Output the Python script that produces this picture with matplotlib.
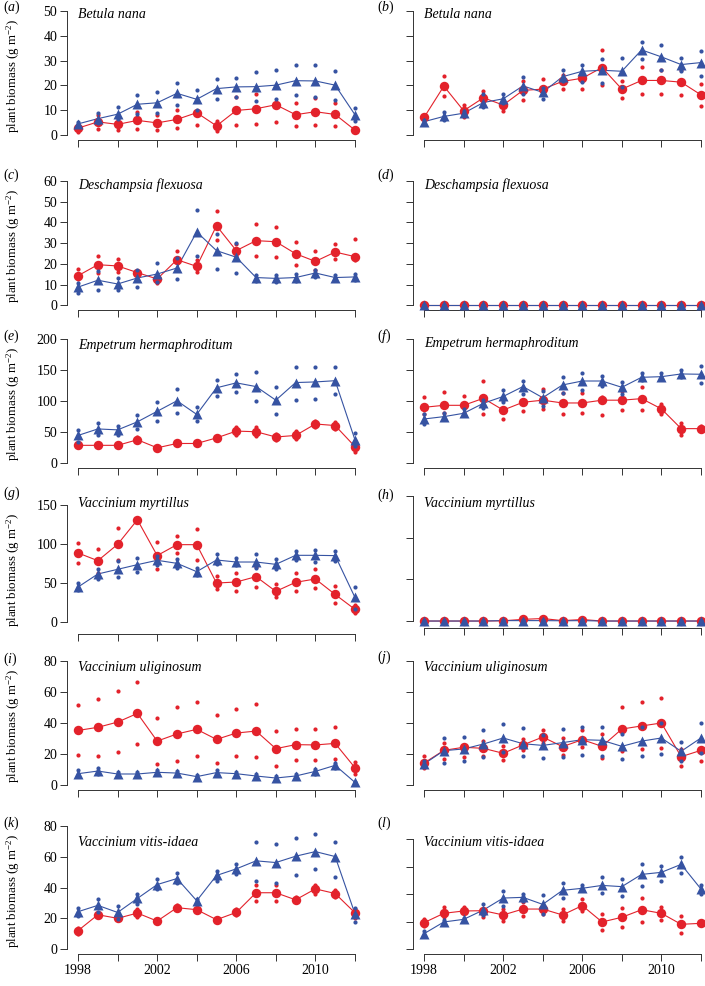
import numpy as np
import matplotlib
matplotlib.use('Agg')
import matplotlib.pyplot as plt

plt.rcParams['font.family'] = ['Liberation Serif', 'DejaVu Serif']
plt.rcParams['mathtext.fontset'] = 'custom'
plt.rcParams['mathtext.rm'] = 'Liberation Serif'
plt.rcParams['mathtext.it'] = 'Liberation Serif:italic'

years = list(range(1998, 2013))

# (a) Betula nana
a_red = [2.8, 5.3, 4.3, 5.9, 4.9, 6.3, 9.0, 3.7, 9.9, 10.6, 12.2, 8.2, 9.4, 8.3, 2.0]
a_red_dots = [[1.2, 3.9], [2.3, 8.0], [1.9, 6.8], [2.5, 9.4], [2.1, 8.0], [2.7, 10.0], [3.9, 14.0], [1.5, 5.5],
              [4.1, 15.5], [4.5, 16.6], [5.2, 19.8], [3.5, 13.0], [4.0, 15.0], [3.5, 13.0], [1.5, 2.5]]
a_blue = [4.5, 6.6, 8.4, 12.4, 13.0, 16.8, 14.4, 18.7, 19.4, 19.5, 20.1, 21.9, 21.8, 20.1, 8.2]
a_blue_dots = [[5.2, 3.8], [8.8, 4.8], [11.2, 6.4], [16.3, 8.4], [17.4, 9.0], [21.1, 12.3], [18.3, 10.2], [22.5, 14.7],
               [23.0, 15.5], [25.3, 13.9], [26.1, 14.4], [28.2, 16.0], [28.2, 15.2], [25.9, 14.3], [10.7, 5.7]]

# (b) Betula nana
b_red = [7.1, 19.7, 9.8, 15.0, 12.1, 18.0, 18.5, 21.6, 22.9, 27.2, 18.5, 22.0, 22.0, 21.3, 16.2]
b_red_dots = [[6.5, 7.5], [23.7, 15.7], [12.2, 7.2], [17.7, 13.5], [13.4, 9.7], [21.7, 14.1], [22.5, 18.0], [24.1, 18.5],
              [23.7, 18.5], [34.3, 20.1], [21.7, 15.1], [27.3, 16.6], [26.3, 16.6], [26.3, 16.2], [20.6, 11.7]]
b_blue = [5.4, 7.5, 8.8, 13.1, 14.6, 19.8, 17.2, 23.5, 25.7, 26.1, 25.7, 34.3, 31.5, 28.4, 29.2]
b_blue_dots = [[4.8, 6.0], [9.1, 6.0], [9.5, 8.0], [16.4, 11.5], [16.4, 12.9], [23.3, 16.5], [18.9, 14.7], [26.4, 21.6],
               [28.2, 21.2], [30.7, 20.9], [31.1, 19.3], [37.3, 30.8], [36.2, 26.3], [31.0, 25.7], [34.0, 23.7]]

# (c) Deschampsia flexuosa
c_red = [14.3, 19.6, 19.0, 15.8, 12.7, 22.0, 18.8, 38.4, 26.4, 31.2, 30.7, 24.9, 21.2, 25.7, 23.5]
c_red_dots = [[17.5, 12.5], [23.8, 15.4], [22.2, 16.1], [16.7, 14.5], [13.8, 10.9], [26.4, 21.9], [21.9, 16.1], [45.5, 31.6],
              [29.6, 24.0], [39.1, 23.8], [38.0, 23.5], [30.4, 19.5], [26.2, 17.0], [29.8, 22.2], [31.8, 22.0]]
c_blue = [8.8, 12.1, 10.3, 13.2, 15.1, 18.0, 35.4, 26.4, 23.2, 13.4, 13.0, 13.4, 15.6, 13.4, 13.7]
c_blue_dots = [[10.9, 6.1], [16.6, 7.2], [13.4, 7.4], [17.2, 8.8], [20.3, 11.3], [23.0, 12.9], [46.2, 24.0], [34.4, 17.7],
               [29.9, 15.8], [14.6, 11.6], [14.5, 11.3], [15.0, 11.6], [16.9, 13.7], [14.5, 12.5], [15.0, 12.2]]

# (d) Deschampsia flexuosa
d_red = [0, 0, 0, 0, 0, 0, 0, 0, 0, 0, 0, 0, 0, 0, 0]
d_red_dots = [[0, 0], [0, 0], [0, 0], [0, 0], [0, 0], [0, 0], [0, 0], [0, 0],
              [0, 0], [0, 0], [0, 0], [0, 0], [0, 0], [0, 0], [0, 0]]
d_blue = [0, 0, 0, 0, 0, 0, 0, 0, 0, 0, 0, 0, 0, 0, 0]
d_blue_dots = [[0, 0], [0, 0], [0, 0], [0, 0], [0, 0], [0, 0], [0, 0], [0, 0],
               [0, 0], [0, 0], [0, 0], [0, 0], [0, 0], [0, 0], [0, 0]]

# (e) Empetrum hermaphroditum
e_red = [28, 28, 28, 37, 24, 31, 31, 40, 51, 50, 41.5, 44, 62.5, 60, 26]
e_red_dots = [[25, 31], [26, 30], [26, 31], [33, 42], [22, 26], [29, 34], [28, 35], [38, 43],
              [45, 57], [43, 57], [36, 47], [38, 51], [57, 68], [54, 66], [17, 30]]
e_blue = [44, 54.5, 53, 66, 83, 100, 78, 121, 129, 123, 101, 129.5, 130.5, 132.5, 37]
e_blue_dots = [[52, 34], [63.6, 44.7], [60, 44], [77, 54.5], [98.7, 68], [119, 80], [89.5, 67], [133.7, 108],
               [143, 115], [146, 99.7], [123, 79], [155, 102], [155, 103], [155, 111.6], [48.5, 27]]

# (f) Empetrum hermaphroditum
f_red = [89.5, 92.7, 92.7, 104, 85, 97.6, 101, 96.5, 96.5, 101, 101, 103.5, 87, 55, 55]
f_red_dots = [[106, 79], [113.7, 80], [108, 81], [132, 78], [102, 70.6], [100, 84], [118.6, 86], [113, 78.7],
              [113, 79.8], [105.7, 77.6], [116, 85], [123, 85.7], [95.4, 78.7], [63.6, 44], [58.8, 51]]
f_blue = [70.6, 74.4, 79.8, 96, 107, 123, 105, 125.6, 132, 132, 121.8, 138, 139, 143.4, 142.9]
f_blue_dots = [[78, 63], [79.8, 70], [86, 77], [102, 88], [117, 97.6], [131.5, 111.6], [116, 91.6], [138, 112],
               [145.6, 117.5], [140, 124], [130, 111.6], [144.5, 133.7], [145.6, 134.8], [150, 139], [156, 129]]

# (g) Vaccinium myrtillus
g_red = [88.3, 78.4, 99.4, 131, 85, 99, 99, 49.7, 51, 57.9, 39, 50.6, 54.9, 35, 15.9]
g_red_dots = [[101.6, 75.4], [93.4, 63], [121, 78.9], [132, 129], [103, 67.3], [110, 87.9], [119.6, 79.3], [59, 41.6],
              [62.6, 39.4], [70, 45], [48.4, 31.3], [63, 39], [67.7, 42.9], [45.9, 24.4], [21, 11.6]]
g_blue = [44.6, 61.3, 67.3, 73.3, 78.9, 75, 64.3, 79.3, 76.7, 76.7, 73.7, 85.3, 85.3, 84.9, 31.3]
g_blue_dots = [[49.7, 40.3], [67.7, 55.3], [78, 57], [81.9, 64.3], [85, 72.9], [80.6, 69.4], [69, 60.4], [87, 73.7],
               [81.9, 72.4], [87, 68.6], [80, 68], [90.9, 79.3], [92, 76.7], [90.9, 78.4], [44, 16.7]]

# (h) Vaccinium myrtillus
h_red = [0, 0, 0, 0, 0.3, 2.0, 3.0, 0.5, 1.8, 0, 0, 0, 0, 0, 0]
h_red_dots = [[0, 0], [0, 0], [0, 0], [0, 0], [0, 0.8], [0.5, 3.5], [1.0, 5.0], [0, 1.2],
              [0.5, 3.0], [0, 0], [0, 0], [0, 0], [0, 0], [0, 0], [0, 0]]
h_blue = [0, 0, 0, 0, 0.5, 0.5, 0.5, 0.3, 0.5, 0, 0, 0, 0, 0, 0]
h_blue_dots = [[0, 0], [0, 0], [0, 0], [0, 0], [0, 1.0], [0, 1.0], [0, 1.0], [0, 0.6],
               [0, 1.0], [0, 0], [0, 0], [0, 0], [0, 0], [0, 0], [0, 0]]

# (i) Vaccinium uliginosum
i_red = [35.1, 37.1, 40.5, 46.1, 28.2, 32.8, 35.8, 29.3, 33.4, 34.7, 23.3, 25.9, 25.7, 26.7, 11.0]
i_red_dots = [[51.8, 19.0], [55.4, 18.5], [60.4, 21.1], [66.4, 26.1], [43.1, 13.6], [50.2, 15.5], [53.3, 18.5], [45.1, 14.2],
              [48.7, 18.5], [52.2, 17.7], [34.7, 12.1], [36.2, 16.0], [36.0, 15.7], [37.1, 16.4], [14.7, 7.1]]
i_blue = [7.1, 8.8, 6.9, 6.9, 8.0, 7.5, 5.2, 7.8, 7.1, 5.6, 4.3, 5.6, 8.6, 12.5, 1.5]
i_blue_dots = [[9.5, 6.0], [10.5, 7.0], [8.5, 6.0], [8.5, 6.0], [9.5, 7.0], [9.0, 6.0], [6.5, 4.5], [9.5, 6.5],
               [8.5, 6.0], [7.0, 4.5], [5.5, 3.5], [7.0, 4.5], [10.0, 7.0], [14.0, 11.0], [2.0, 1.0]]

# (j) Vaccinium uliginosum
j_red = [14.0, 22.2, 24.2, 23.5, 20.3, 25.7, 30.8, 24.6, 29.1, 24.8, 36.0, 38.0, 39.9, 18.1, 22.2]
j_red_dots = [[18.5, 10.8], [27.0, 16.8], [25.0, 18.1], [28.5, 18.5], [24.8, 16.0], [29.8, 22.4], [35.1, 26.7], [30.4, 19.4],
              [35.4, 24.2], [33.0, 17.0], [50.5, 21.8], [53.3, 22.9], [56.3, 23.5], [23.3, 12.1], [28.9, 15.5]]
j_blue = [13.4, 22.0, 23.1, 26.3, 30.2, 26.5, 25.4, 27.2, 29.1, 28.7, 24.8, 28.2, 30.2, 21.6, 30.2]
j_blue_dots = [[15.5, 12.1], [30.0, 13.8], [30.8, 15.3], [35.4, 17.7], [39.2, 21.0], [36.4, 18.5], [32.0, 17.5], [36.2, 17.7],
               [37.5, 19.0], [37.3, 18.5], [32.8, 16.8], [37.0, 18.5], [39.7, 19.6], [27.6, 15.5], [39.9, 20.7]]

# (k) Vaccinium vitis-idaea
k_red = [12.1, 22.4, 20.1, 23.5, 18.3, 27.0, 25.7, 19.2, 23.9, 36.7, 36.7, 32.1, 39.2, 36.2, 23.7]
k_red_dots = [[10.0, 14.0], [21.5, 23.5], [19.5, 20.5], [21.0, 26.0], [18.0, 19.0], [25.5, 28.5], [24.5, 26.5], [18.5, 20.0],
              [22.0, 26.0], [41.6, 31.5], [41.6, 31.5], [30.5, 34.0], [36.0, 42.0], [34.0, 38.5], [20.0, 26.0]]
k_blue = [24.4, 28.5, 23.9, 33.0, 42.0, 45.9, 31.5, 47.9, 52.2, 57.4, 56.3, 60.4, 63.4, 60.2, 23.1]
k_blue_dots = [[27.0, 21.3], [32.6, 24.0], [27.8, 19.4], [36.0, 29.5], [45.3, 39.2], [49.6, 43.1], [32.5, 30.5], [51.1, 44.4],
               [55.4, 48.9], [69.4, 44.6], [68.4, 42.9], [72.2, 48.3], [74.8, 51.8], [69.9, 47.0], [26.5, 17.7]]

# (l) Vaccinium vitis-idaea
l_red = [19.4, 26.2, 27.9, 28.1, 25.0, 29.3, 29.3, 25.0, 31.8, 19.9, 23.3, 28.8, 26.2, 18.2, 18.9]
l_red_dots = [[17.0, 22.0], [31.0, 23.8], [30.5, 27.4], [29.6, 23.8], [29.3, 20.4], [34.4, 24.0], [31.0, 25.7], [29.6, 20.8],
              [36.4, 27.6], [25.7, 14.1], [30.3, 16.2], [37.6, 20.1], [31.0, 21.6], [24.2, 12.1], [20.1, 18.2]]
l_blue = [11.4, 19.9, 21.8, 28.6, 37.3, 37.8, 32.7, 42.9, 44.4, 46.5, 45.6, 54.5, 56.0, 61.8, 43.9]
l_blue_dots = [[10.0, 13.0], [19.0, 21.0], [21.0, 22.5], [32.7, 25.0], [42.4, 31.5], [40.2, 34.9], [39.5, 25.7], [48.0, 37.1],
               [47.0, 43.2], [52.4, 40.7], [50.9, 39.0], [62.1, 46.1], [60.8, 49.9], [67.2, 55.8], [46.8, 40.2]]

species = ['Betula nana', 'Deschampsia flexuosa', 'Empetrum hermaphroditum',
           'Vaccinium myrtillus', 'Vaccinium uliginosum', 'Vaccinium vitis-idaea']
letters = 'abcdefghijkl'
x_labels = {1998: '1998', 2002: '2002', 2006: '2006', 2010: '2010'}

panels = [
    (a_red, a_red_dots, a_blue, a_blue_dots), (b_red, b_red_dots, b_blue, b_blue_dots),
    (c_red, c_red_dots, c_blue, c_blue_dots), (d_red, d_red_dots, d_blue, d_blue_dots),
    (e_red, e_red_dots, e_blue, e_blue_dots), (f_red, f_red_dots, f_blue, f_blue_dots),
    (g_red, g_red_dots, g_blue, g_blue_dots), (h_red, h_red_dots, h_blue, h_blue_dots),
    (i_red, i_red_dots, i_blue, i_blue_dots), (j_red, j_red_dots, j_blue, j_blue_dots),
    (k_red, k_red_dots, k_blue, k_blue_dots), (l_red, l_red_dots, l_blue, l_blue_dots),
]

# layout in pixels: (box top, box bottom, ylim low, ylim high, top tick, tick step, species y, letter y)
layout = [
    (6, 140, -2, 52, 50, 10, 15, 7), (6, 140, -2, 52, 50, 10, 15, 7),
    (176, 310.3, -2.4, 62.4, 60, 10, 185, 175), (176, 310.3, -2.4, 62.4, 60, 10, 185, 175),
    (334, 467.6, -8, 208, 200, 50, 345, 336), (334, 467.6, -8, 208, 200, 50, 344, 336),
    (500.3, 634, -15.8, 156, 150, 50, 503, 493), (491, 627.7, -8, 156, 150, 50, 503, 495),
    (656.1, 789.6, -3.2, 83.2, 80, 20, 667, 659), (656.1, 789.6, -3.2, 83.2, 80, 20, 667, 657),
    (821.1, 954.2, -3.2, 83.2, 80, 20, 843, 823), (827.8, 954, -3.4, 88.4, 80, 20, 842, 823),
]

W, H = 705, 986
RED = '#e3222b'
BLUE = '#3653a2'

fig = plt.figure(figsize=(W / 100, H / 100), dpi=100)

for idx, (data, lay) in enumerate(zip(panels, layout)):
    red, red_dots, blue, blue_dots = data
    top, bot, ylo, yhi, ytop, ystep, sp_y, let_y = lay
    col = idx % 2
    row = idx // 2
    left = 67 if col == 0 else 413
    right = left + 299
    ax = fig.add_axes([left / W, 1 - bot / H, (right - left) / W, (bot - top) / H])
    ax.patch.set_alpha(0)

    for vals, dots, col_, mk, ms in [(red, red_dots, RED, 'o', 6.8), (blue, blue_dots, BLUE, '^', 7.5)]:
        ax.plot(years, vals, '-', color=col_, lw=0.8, zorder=2)
        ax.plot(years, vals, mk, color=col_, ms=ms, mec='none', zorder=3)
        ax.plot(np.repeat(years, 2), np.ravel(dots), 'o', color=col_, ms=3, mec='none', zorder=3)

    ax.set_xlim(1997.44, 2012.56)
    ax.set_ylim(ylo, yhi)
    for s in ['top', 'right']:
        ax.spines[s].set_visible(False)
    ax.spines['left'].set_bounds(0, ytop)
    ax.spines['bottom'].set_bounds(1998, 2012)
    for s in ['left', 'bottom']:
        ax.spines[s].set_linewidth(0.7)
        ax.spines[s].set_color('#333333')
    ax.tick_params(direction='out', length=5, width=0.7, color='#333333', labelsize=10, pad=2)

    ax.set_yticks(np.arange(0, ytop + 1, ystep))
    if col == 1:
        ax.set_yticklabels([])
    xt = list(range(1998, 2013, 2))
    ax.set_xticks(xt)
    if row == 5:
        ax.set_xticklabels([x_labels.get(t, '') for t in xt])
    else:
        ax.set_xticklabels([])

    fig.text((78 if col == 0 else 424) / W, 1 - sp_y / H, species[row], style='italic',
             fontsize=10, ha='left', va='center')
    fig.text((3 if col == 0 else 377) / W, 1 - let_y / H, r'($\it{' + letters[idx] + r'}$)',
             fontsize=10, ha='left', va='center')
    if col == 0:
        fig.text(13 / W, 1 - ((top + bot) / 2 + 3) / H, r'plant biomass (g m$^{-2}$)',
                 rotation=90, fontsize=9.3, ha='center', va='center')

fig.savefig('out.png', dpi=100)
